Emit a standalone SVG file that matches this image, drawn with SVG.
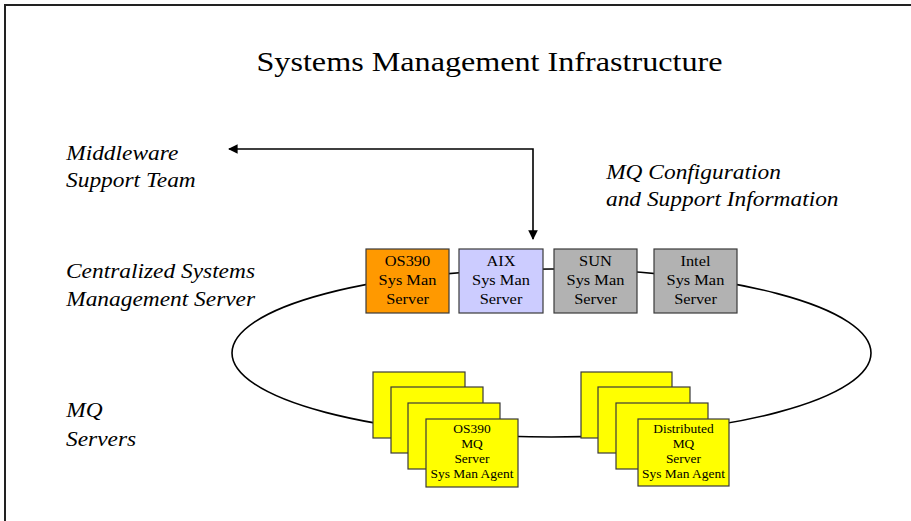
<svg xmlns="http://www.w3.org/2000/svg" width="911" height="521" viewBox="0 0 911 521">
<style>
text{font-family:"Liberation Serif","Times New Roman",serif;fill:#000}
.sx{transform-box:fill-box;transform:scaleX(1.17)}
.l{transform-origin:0 50%}
.m{transform-origin:50% 50%;text-anchor:middle}
.it{font-style:italic;font-size:20px}
.bx{stroke:#3a3a3a;stroke-width:1.2}
.bt{font-size:14px}
.st{fill:#ffff00;stroke:#3a3a3a;stroke-width:1.2}
.stt{font-size:11.5px}
.ln{fill:none;stroke:#000;stroke-width:1.6}
</style>
<defs>
<marker id="ah" viewBox="0 0 10 10" refX="9" refY="5" markerWidth="6" markerHeight="6" orient="auto-start-reverse">
<path d="M0,0 L10,5 L0,10 z" fill="#000"/>
</marker>
</defs>
<rect x="5" y="5" width="1000" height="600" fill="#fff" stroke="#222" stroke-width="2"/>
<text class="sx m" x="489.5" y="71" font-size="27.5">Systems Management Infrastructure</text>
<g id="labels">
<text class="sx l it" x="66" y="160">Middleware</text>
<text class="sx l it" x="66" y="187">Support Team</text>
<text class="sx l it" x="66" y="278">Centralized Systems</text>
<text class="sx l it" x="66" y="306">Management Server</text>
<text class="sx l it" x="66" y="417">MQ</text>
<text class="sx l it" x="66" y="446">Servers</text>
<text class="sx l it" x="606" y="179">MQ Configuration</text>
<text class="sx l it" x="606" y="206">and Support Information</text>
</g>
<g id="connectors">
<ellipse class="ln" cx="551.5" cy="353" rx="319.5" ry="84" stroke-width="1.2"/>
<polyline class="ln" points="229,149 533,149 533,239" marker-start="url(#ah)" marker-end="url(#ah)"/>
</g>
<g id="os390-server">
<rect class="bx" x="366" y="249" width="83" height="64" fill="#ff9900"/>
<text class="sx m bt" x="407.5" y="266">OS390</text>
<text class="sx m bt" x="407.5" y="285">Sys Man</text>
<text class="sx m bt" x="407.5" y="304">Server</text>
</g>
<g id="aix-server">
<rect class="bx" x="459" y="249" width="84" height="64" fill="#ccccff"/>
<text class="sx m bt" x="501" y="266">AIX</text>
<text class="sx m bt" x="501" y="285">Sys Man</text>
<text class="sx m bt" x="501" y="304">Server</text>
</g>
<g id="sun-server">
<rect class="bx" x="554" y="249" width="83" height="64" fill="#b2b2b2"/>
<text class="sx m bt" x="595.5" y="266">SUN</text>
<text class="sx m bt" x="595.5" y="285">Sys Man</text>
<text class="sx m bt" x="595.5" y="304">Server</text>
</g>
<g id="intel-server">
<rect class="bx" x="654" y="249" width="83" height="64" fill="#b2b2b2"/>
<text class="sx m bt" x="695.5" y="266">Intel</text>
<text class="sx m bt" x="695.5" y="285">Sys Man</text>
<text class="sx m bt" x="695.5" y="304">Server</text>
</g>
<g id="os390-mq-servers">
<rect class="st" x="373" y="372" width="92" height="66"/>
<rect class="st" x="391" y="387" width="92" height="66"/>
<rect class="st" x="408" y="403" width="92" height="66"/>
<rect class="st" x="426" y="419" width="92" height="68"/>
<text class="sx m stt" x="472" y="433">OS390</text>
<text class="sx m stt" x="472" y="448">MQ</text>
<text class="sx m stt" x="472" y="463">Server</text>
<text class="sx m stt" x="472" y="478">Sys Man Agent</text>
</g>
<g id="distributed-mq-servers">
<rect class="st" x="581" y="372" width="91" height="66"/>
<rect class="st" x="598" y="387" width="92" height="66"/>
<rect class="st" x="616" y="403" width="92" height="66"/>
<rect class="st" x="638" y="419" width="91" height="67"/>
<text class="sx m stt" x="683.5" y="433">Distributed</text>
<text class="sx m stt" x="683.5" y="448">MQ</text>
<text class="sx m stt" x="683.5" y="463">Server</text>
<text class="sx m stt" x="683.5" y="478">Sys Man Agent</text>
</g>
</svg>
